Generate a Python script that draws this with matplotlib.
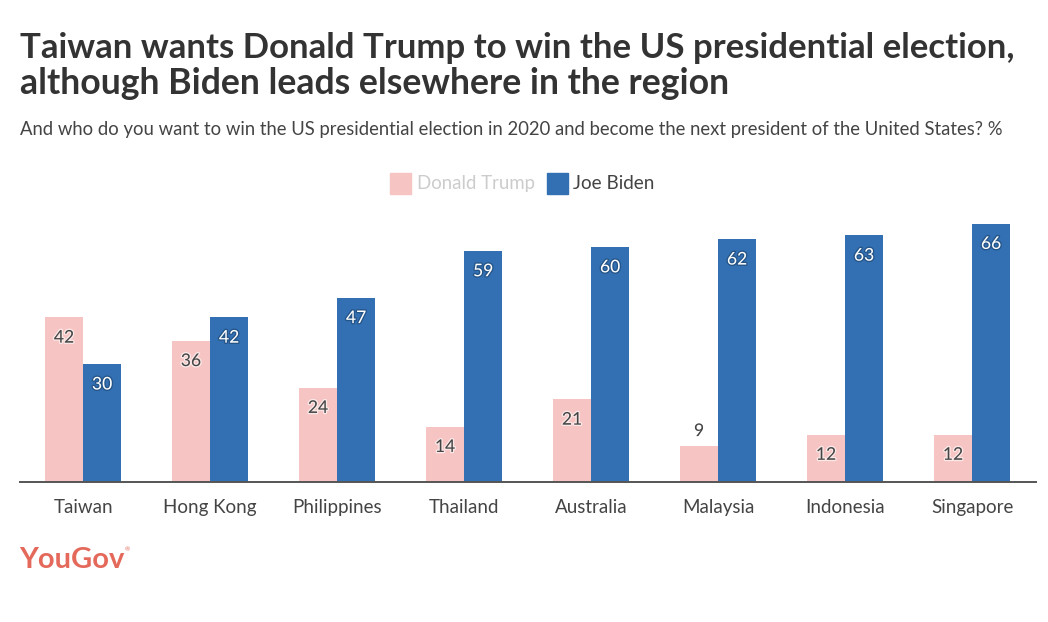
import numpy as np
import matplotlib
matplotlib.use("Agg")
import matplotlib.pyplot as plt
import matplotlib.patheffects as pe
from matplotlib.patches import Rectangle

countries = ["Taiwan", "Hong Kong", "Philippines", "Thailand", "Australia", "Malaysia", "Indonesia", "Singapore"]
trump = [42, 36, 24, 14, 21, 9, 12, 12]
biden = [30, 42, 47, 59, 60, 62, 63, 66]
title_lines = ["Taiwan wants Donald Trump to win the US presidential election,",
               "although Biden leads elsewhere in the region"]
subtitle = "And who do you want to win the US presidential election in 2020 and become the next president of the United States? %"

W, H = 1048, 622
PINK, BLUE, DARK = "#F5C4C3", "#3370B3", "#333333"
plt.rcParams["font.family"] = ["Lato", "DejaVu Sans"]
fig = plt.figure(figsize=(W / 100, H / 100), dpi=100, facecolor="white")

base = 481.5
left, right, top = 19.6, 1035.6, 200
ax = fig.add_axes([left / W, 1 - base / H, (right - left) / W, (base - top) / H])
x = np.arange(len(countries))
bw = 0.3
ax.bar(x - bw / 2, trump, bw, color=PINK)
ax.bar(x + bw / 2, biden, bw, color=BLUE)
ax.set_xlim(-0.5, len(countries) - 0.5)
ax.set_ylim(0, (base - top) / 3.905)
ax.set_yticks([])
for s in ["top", "left", "right"]:
    ax.spines[s].set_visible(False)
ax.spines["bottom"].set_color("#555555")
ax.spines["bottom"].set_linewidth(1.4)
ax.set_xticks(x, countries, fontsize=13.5, color="#444444")
ax.tick_params(axis="x", length=0, pad=12.5)

for xi, v in zip(x - bw / 2, trump):
    inside = v >= 12
    ax.annotate(str(v), (xi, v), xytext=(0, -14.5 if inside else 11), textcoords="offset points",
                ha="center", va="center", fontsize=12.6, color="#444444",
                path_effects=[pe.withStroke(linewidth=2, foreground="white", alpha=0.6)])
for xi, v in zip(x + bw / 2, biden):
    ax.annotate(str(v), (xi, v), xytext=(0, -14.5), textcoords="offset points",
                ha="center", va="center", fontsize=12.6, color="white",
                path_effects=[pe.withStroke(linewidth=2, foreground="#1F4A78", alpha=0.7)])

fig.text(20 / W, 1 - 47.5 / H, title_lines[0], fontsize=25.05, fontweight="bold", color=DARK, va="center")
fig.text(20 / W, 1 - 83.5 / H, title_lines[1], fontsize=25.7, fontweight="bold", color=DARK, va="center")
fig.text(20 / W, 1 - 129.5 / H, subtitle, fontsize=13.33, color="#444444", va="center")

fig.add_artist(Rectangle((390 / W, 1 - 194 / H), 21 / W, 21 / H, color=PINK, transform=fig.transFigure))
fig.text(417 / W, 1 - 184 / H, "Donald Trump", fontsize=13.4, color="#CCCCCC", va="center")
fig.add_artist(Rectangle((547 / W, 1 - 194 / H), 21 / W, 21 / H, color=BLUE, transform=fig.transFigure))
fig.text(573 / W, 1 - 184 / H, "Joe Biden", fontsize=13.6, color="#444444", va="center")

fig.text(19 / W, 1 - 559.5 / H, "YouGov", fontsize=21, fontweight="bold", color="#E4695B", va="center")
fig.text(124.5 / W, 1 - 550 / H, "®", fontsize=4.5, color="#E4695B", va="center")

fig.savefig("out.png", dpi=100, facecolor="white")
